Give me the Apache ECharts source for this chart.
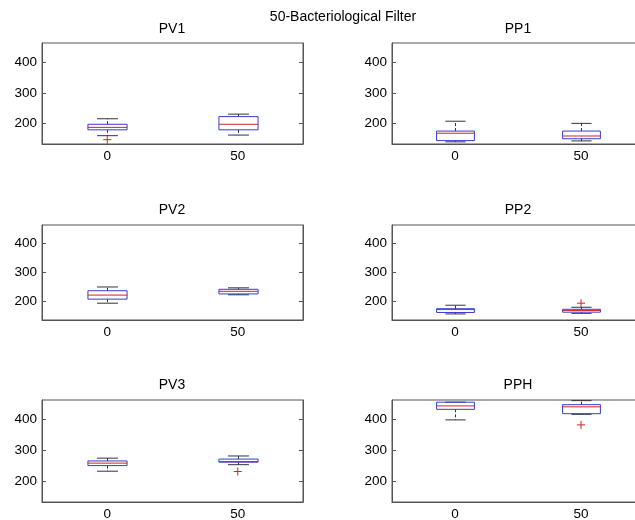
<!DOCTYPE html>
<html>
<head>
<meta charset="utf-8">
<script src="https://cdn.jsdelivr.net/npm/echarts@6/dist/echarts.min.js"></script>
<style>
  html, body { margin: 0; padding: 0; background: #fff; }
  #main { width: 635px; height: 520px; }
</style>
</head>
<body>
<div id="main"></div>
<script>
// 数据：每个箱子 [min, q1, median, q3, max]
const categories = ['0', '50'];
const yTicks = [200, 300, 400];
const panelNames = ['PV1', 'PP1', 'PV2', 'PP2', 'PV3', 'PPH'];

const pv1Box = [[161, 180, 188, 198, 216], [163, 180, 198, 223, 231]];
const pp1Box = [[141, 145, 169, 176, 208], [144, 151, 160, 176, 201]];
const pv2Box = [[192, 206, 220, 235, 248], [221, 224, 233, 240, 245]];
const pp2Box = [[155, 160, 170, 173, 185], [157, 161, 167, 171, 178]];
const pv3Box = [[233, 251, 259, 266, 275], [254, 262, 264, 272, 282]];
const ppHBox = [[398, 432, 443, 455, 455], [416, 418, 440, 447, 460]];

// 离群点 [类别序号, 值]
const pv1Out = [[0, 148]];
const pp1Out = [];
const pv2Out = [];
const pp2Out = [[1, 192]];
const pv3Out = [[1, 232]];
const ppHOut = [[1, 382]];

const boxes = [pv1Box, pp1Box, pv2Box, pp2Box, pv3Box, ppHBox];
const outliers = [pv1Out, pp1Out, pv2Out, pp2Out, pv3Out, ppHOut];

var chartDom = document.getElementById('main');
var myChart = echarts.init(chartDom, null, { renderer: 'canvas' });
var option;

const FONT = 'Liberation Sans, Arial, sans-serif';
const AXIS_COLOR = '#555';

// 子图位置
const gridPos = [
  { left: 42, top: 43, width: 261, height: 101 },
  { left: 392, top: 43, width: 252, height: 101 },
  { left: 42, top: 225, width: 261, height: 95 },
  { left: 392, top: 225, width: 252, height: 95 },
  { left: 42, top: 400, width: 261, height: 102 },
  { left: 392, top: 400, width: 252, height: 102 }
];
const titlePos = [[172, 29], [518, 29], [172, 210], [518, 210], [172, 385], [518, 385]];

function renderBox(params, api) {
  var x = api.value(0);
  var band = api.size([1, 0])[0];
  var hw = band * 0.15;
  var cw = band * 0.08;
  var pMin = api.coord([x, api.value(1)]);
  var pQ1 = api.coord([x, api.value(2)]);
  var pMed = api.coord([x, api.value(3)]);
  var pQ3 = api.coord([x, api.value(4)]);
  var pMax = api.coord([x, api.value(5)]);
  var cx = Math.round(pMed[0]) + 0.5;
  var blk = { stroke: '#333', lineWidth: 1 };
  return {
    type: 'group',
    children: [
      { type: 'line', shape: { x1: cx, y1: pQ3[1], x2: cx, y2: pMax[1] }, style: { stroke: '#333', lineWidth: 1, lineDash: [3, 2] } },
      { type: 'line', shape: { x1: cx, y1: pQ1[1], x2: cx, y2: pMin[1] }, style: { stroke: '#333', lineWidth: 1, lineDash: [3, 2] } },
      { type: 'line', shape: { x1: cx - cw, y1: pMax[1], x2: cx + cw, y2: pMax[1] }, style: blk },
      { type: 'line', shape: { x1: cx - cw, y1: pMin[1], x2: cx + cw, y2: pMin[1] }, style: blk },
      { type: 'rect', shape: { x: cx - hw, y: pQ3[1], width: hw * 2, height: pQ1[1] - pQ3[1] }, style: { fill: 'none', stroke: '#3a3ad0', lineWidth: 1 } },
      { type: 'line', shape: { x1: cx - hw, y1: pMed[1], x2: cx + hw, y2: pMed[1] }, style: { stroke: '#d82020', lineWidth: 1 } }
    ]
  };
}

function renderOutlier(params, api) {
  var p = api.coord([api.value(0), api.value(1)]);
  var s = 4;
  return {
    type: 'group',
    children: [
      { type: 'line', shape: { x1: p[0] - s, y1: p[1], x2: p[0] + s, y2: p[1] }, style: { stroke: '#d82020', lineWidth: 1 } },
      { type: 'line', shape: { x1: p[0], y1: p[1] - s, x2: p[0], y2: p[1] + s }, style: { stroke: '#d82020', lineWidth: 1 } }
    ]
  };
}

const grids = [];
const xAxes = [];
const yAxes = [];
const seriesList = [];
const titles = [{
  text: '50-Bacteriological Filter',
  left: 343, top: 17, padding: 0,
  textAlign: 'center', textVerticalAlign: 'middle',
  textStyle: { fontFamily: FONT, fontSize: 14, fontWeight: 'normal', color: '#000' }
}];

panelNames.forEach(function (name, i) {
  grids.push(Object.assign({
    show: true, borderColor: AXIS_COLOR, borderWidth: 1,
    backgroundColor: '#fff', outerBoundsMode: 'none', containLabel: false
  }, gridPos[i]));
  titles.push({
    text: name,
    left: titlePos[i][0], top: titlePos[i][1], padding: 0,
    textAlign: 'center', textVerticalAlign: 'middle',
    textStyle: { fontFamily: FONT, fontSize: 14, fontWeight: 'normal', color: '#000' }
  });
  xAxes.push({
    type: 'category', gridIndex: i, data: categories,
    axisLine: { show: true, lineStyle: { color: AXIS_COLOR } },
    axisTick: { show: false },
    axisLabel: { margin: 5, fontFamily: FONT, fontSize: 13.5, color: '#000' },
    splitLine: { show: false }
  });
  // 左侧 y 轴
  yAxes.push({
    type: 'value', gridIndex: i, min: 134, max: 462, position: 'left',
    axisLine: { show: true, lineStyle: { color: AXIS_COLOR } },
    axisTick: { show: true, inside: true, length: 4, customValues: yTicks, lineStyle: { color: AXIS_COLOR } },
    axisLabel: { margin: 5, fontFamily: FONT, fontSize: 13.5, color: '#000', customValues: yTicks },
    splitLine: { show: false }
  });
  // 右侧镜像刻度
  yAxes.push({
    type: 'value', gridIndex: i, min: 134, max: 462, position: 'right',
    axisLine: { show: true, onZero: false, lineStyle: { color: AXIS_COLOR } },
    axisTick: { show: true, inside: true, length: 4, customValues: yTicks, lineStyle: { color: AXIS_COLOR } },
    axisLabel: { show: false },
    splitLine: { show: false }
  });
  seriesList.push({
    type: 'custom',
    xAxisIndex: i, yAxisIndex: i * 2,
    renderItem: renderBox,
    clip: true,
    silent: true,
    encode: { x: 0, y: [1, 2, 3, 4, 5] },
    data: boxes[i].map(function (b, k) { return [k].concat(b); })
  });
  seriesList.push({
    type: 'custom',
    xAxisIndex: i, yAxisIndex: i * 2,
    renderItem: renderOutlier,
    clip: true,
    silent: true,
    encode: { x: 0, y: 1 },
    data: outliers[i]
  });
});

option = {
  backgroundColor: '#fff',
  animation: false,
  title: titles,
  grid: grids,
  xAxis: xAxes,
  yAxis: yAxes,
  series: seriesList
};

option && myChart.setOption(option);
</script>
</body>
</html>
